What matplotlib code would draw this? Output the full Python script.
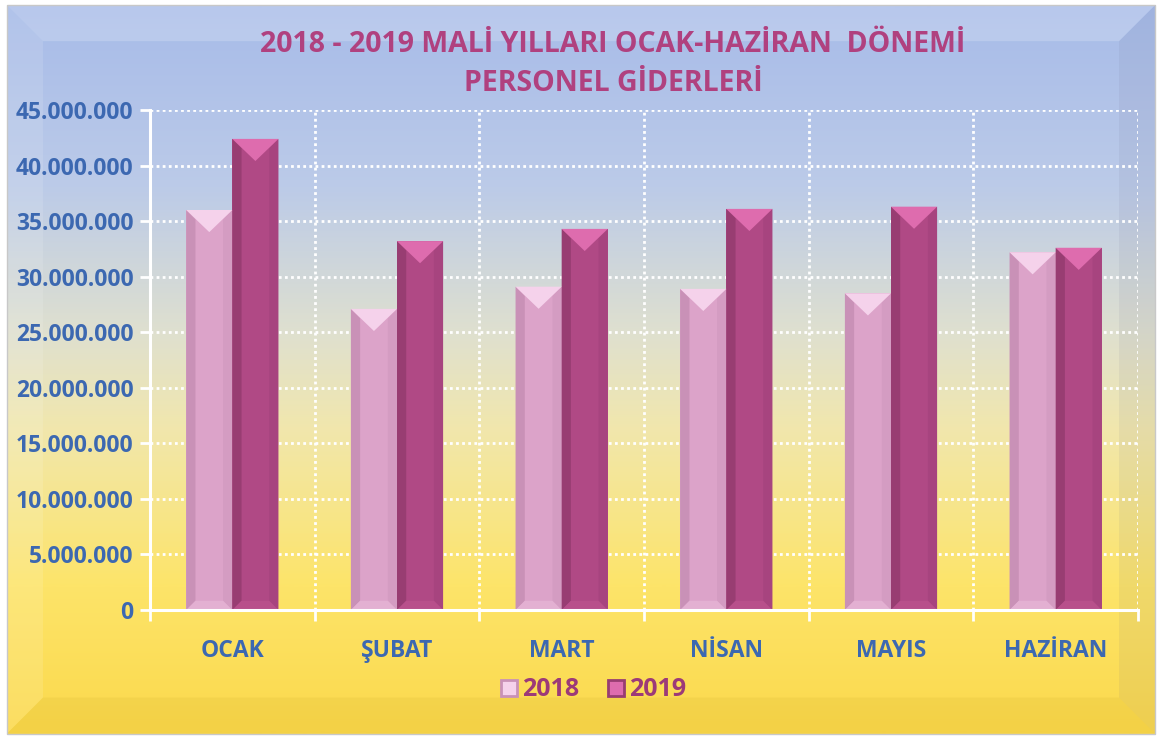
import numpy as np
import matplotlib
matplotlib.use("Agg")
import matplotlib.pyplot as plt
from matplotlib.colors import LinearSegmentedColormap
from matplotlib.patches import Polygon
from matplotlib.ticker import FuncFormatter, MultipleLocator, FixedLocator
from matplotlib.lines import Line2D

# ? Data (TL)
months = ["OCAK", "ŞUBAT", "MART", "NİSAN", "MAYIS", "HAZİRAN"]
values_2018 = [36.0e6, 27.1e6, 29.1e6, 28.9e6, 28.5e6, 32.2e6]
values_2019 = [42.4e6, 33.2e6, 34.3e6, 36.1e6, 36.3e6, 32.6e6]
series_names = ["2018", "2019"]

title_color = "#b0417f"
tick_color = "#3c68b1"
legend_color = "#9c3a78"

# * colours of the bar faces: main, left side, right side, top bevel, bottom bevel
col_2018 = ["#dca3c9", "#c991b7", "#d49cc2", "#f5d2eb", "#e3b0d2"]
col_2019 = ["#b04985", "#983d72", "#a7447f", "#de6cae", "#b8508b"]


def dotted_number(v, pos):
    return f"{int(round(v)):,}".replace(",", ".")


def bevel_bar(ax, patch, cols, px_per_unit):
    x = patch.get_x()
    w = patch.get_width()
    h = patch.get_height()
    w_px = w * ax.transData.get_matrix()[0, 0]
    tri = (w_px * 0.48) / px_per_unit
    side = w * 0.2
    edge = (w_px * 0.2) / px_per_unit
    # ? left face
    ax.add_patch(Polygon([(x, 0), (x + side, edge), (x + side, h - tri * 0.42),
                          (x, h)], closed=True, fc=cols[1], ec="none",
                         zorder=3))
    # ? right face
    ax.add_patch(Polygon([(x + w, 0), (x + w - side, edge),
                          (x + w - side, h - tri * 0.42), (x + w, h)],
                         closed=True, fc=cols[2], ec="none", zorder=3))
    # ? bottom bevel
    ax.add_patch(Polygon([(x, 0), (x + w, 0), (x + w - side, edge),
                          (x + side, edge)], closed=True, fc=cols[4],
                         ec="none", zorder=3))
    # ? top bevel triangle
    ax.add_patch(Polygon([(x, h), (x + w, h), (x + w / 2, h - tri)],
                         closed=True, fc=cols[3], ec="none", zorder=4))


def main():
    fig = plt.figure(figsize=(11.62, 7.38), dpi=100)
    fig.patch.set_facecolor("white")

    # * Background gradient blue -> yellow
    bg = fig.add_axes([0, 0, 1, 1], zorder=-5)
    bg.set_xlim(0, 1)
    bg.set_ylim(0, 1)
    bg.axis("off")
    cmap = LinearSegmentedColormap.from_list(
        "bg", [(0.0, "#fbd94c"), (0.2, "#fde469"), (0.42, "#f1e7ad"),
               (0.55, "#dfe0cf"), (0.75, "#bccbe8"), (1.0, "#a7bbe9")])
    grad = np.linspace(0, 1, 400).reshape(-1, 1)
    bg.imshow(grad, cmap=cmap, extent=[0.006, 0.994, 0.006, 0.993],
              origin="lower", aspect="auto", zorder=0)
    # * Bevel around the frame
    bx = 36 / 1162
    by = 36 / 738
    x0, x1, y0, y1 = 0.006, 0.994, 0.006, 0.993
    bg.add_patch(Polygon([(x0, y1), (x1, y1), (x1 - bx, y1 - by),
                          (x0 + bx, y1 - by)], fc="white", alpha=0.2,
                         ec="none", zorder=1))
    bg.add_patch(Polygon([(x0, y0), (x0, y1), (x0 + bx, y1 - by),
                          (x0 + bx, y0 + by)], fc="white", alpha=0.12,
                         ec="none", zorder=1))
    bg.add_patch(Polygon([(x1, y0), (x1, y1), (x1 - bx, y1 - by),
                          (x1 - bx, y0 + by)], fc="#5a5a80", alpha=0.08,
                         ec="none", zorder=1))
    bg.add_patch(Polygon([(x0, y0), (x1, y0), (x1 - bx, y0 + by),
                          (x0 + bx, y0 + by)], fc="#a07a00", alpha=0.08,
                         ec="none", zorder=1))
    bg.add_patch(plt.Rectangle((x0, y0), x1 - x0, y1 - y0, fill=False,
                               ec="#c8c8c8", lw=1, zorder=2))

    # * Main chart
    ax = fig.add_axes([150 / 1162, 1 - 610 / 738, 988 / 1162, 500 / 738])
    ax.set_facecolor("none")
    idx = np.arange(len(months))
    ax.set_xlim(-0.5, len(months) - 0.5)
    ax.set_ylim(0, 45e6)

    bars_a = ax.bar(idx - 0.14, values_2018, width=0.28, color=col_2018[0],
                    zorder=2, label=series_names[0])
    bars_b = ax.bar(idx + 0.14, values_2019, width=0.28, color=col_2019[0],
                    zorder=2, label=series_names[1])
    px_per_unit = ax.transData.get_matrix()[1, 1]
    for p in bars_a:
        bevel_bar(ax, p, col_2018, px_per_unit)
    for p in bars_b:
        bevel_bar(ax, p, col_2019, px_per_unit)

    # ? grid : dotted white
    ax.yaxis.set_major_locator(MultipleLocator(5e6))
    ax.yaxis.set_major_formatter(FuncFormatter(dotted_number))
    ax.set_xticks(idx)
    ax.set_xticklabels(months)
    ax.xaxis.set_minor_locator(FixedLocator(np.arange(-0.5, len(months), 1)))
    ax.grid(axis="y", which="major", color="white", ls=(0, (1, 1.2)), lw=2,
            zorder=1)
    ax.grid(axis="x", which="minor", color="white", ls=(0, (1, 1.2)), lw=2,
            zorder=1)
    for s in ["top", "right"]:
        ax.spines[s].set_visible(False)
    for s in ["left", "bottom"]:
        ax.spines[s].set_color("white")
        ax.spines[s].set_linewidth(2.2)
        ax.spines[s].set_zorder(5)

    ax.tick_params(axis="y", colors="white", width=2, length=7,
                   labelcolor=tick_color, labelsize=16.5, pad=5)
    ax.tick_params(axis="x", which="major", length=0, pad=21,
                   labelcolor=tick_color, labelsize=16.5)
    ax.tick_params(axis="x", which="minor", colors="white", width=2,
                   length=8)
    for lab in ax.get_yticklabels() + ax.get_xticklabels():
        lab.set_fontweight("bold")
        lab.set_fontfamily("Open Sans")

    # * Title
    fig.text(613 / 1162, 1 - 64 / 738,
             "2018 - 2019 MALİ YILLARI OCAK-HAZİRAN  DÖNEMİ\n"
             "PERSONEL GİDERLERİ", ha="center", va="center",
             color=title_color, fontsize=20.5, fontweight="bold",
             family="Open Sans", linespacing=1.45)

    # * Legend
    handles = [Line2D([], [], ls="none", marker="s", markersize=12,
                      markerfacecolor=col_2018[3], markeredgecolor=col_2018[1],
                      markeredgewidth=2),
               Line2D([], [], ls="none", marker="s", markersize=12,
                      markerfacecolor=col_2019[3], markeredgecolor=col_2019[1],
                      markeredgewidth=2)]
    leg = fig.legend(handles, series_names, loc="center",
                     bbox_to_anchor=(592 / 1162, 1 - 690 / 738), ncol=2,
                     frameon=False, handletextpad=0.1, columnspacing=1.0,
                     handlelength=0.9,
                     prop={"family": "Open Sans", "weight": "bold",
                           "size": 18})
    for t in leg.get_texts():
        t.set_color(legend_color)

    fig.savefig("out.png", dpi=100)


if __name__ == "__main__":
    main()
